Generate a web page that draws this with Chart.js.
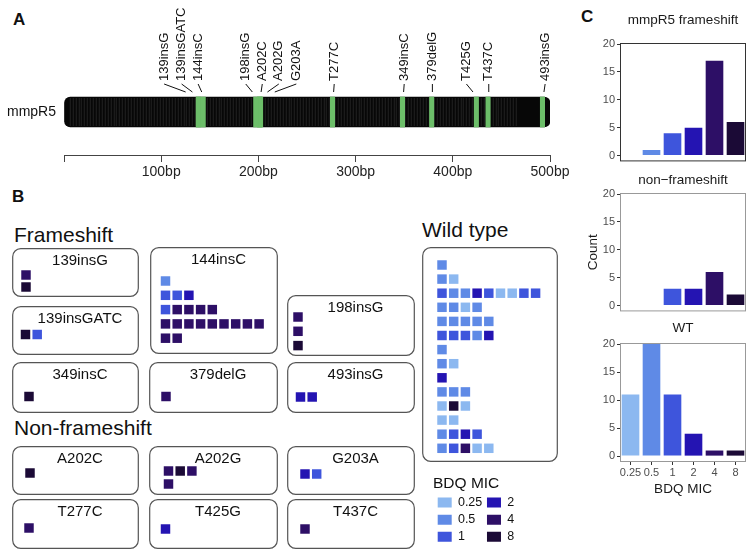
<!DOCTYPE html>
<html>
<head>
<meta charset="utf-8">
<script src="https://cdn.jsdelivr.net/npm/chart.js@4.4.1/dist/chart.umd.min.js"></script>
<style>
  body { margin: 0; background: #fff; }
  #fig { position: relative; width: 750px; height: 553px; overflow: hidden; font-family: "Liberation Sans", Arial, Helvetica, sans-serif; color: #111; }
  #fig canvas { position: absolute; }
  .lbl { position: absolute; line-height: 1; white-space: nowrap; }
  .panel { font-weight: bold; font-size: 17px; }
  .group { font-size: 21px; }
</style>
</head>
<body>
<div id="fig">
  <div class="lbl panel" style="left:13px;top:11px">A</div>
  <div class="lbl panel" style="left:12px;top:188px">B</div>
  <div class="lbl panel" style="left:581px;top:8px">C</div>
  <div class="lbl group" style="left:14px;top:224px">Frameshift</div>
  <div class="lbl group" style="left:14px;top:417px">Non-frameshift</div>
  <div class="lbl group" style="left:422px;top:219px">Wild type</div>
</div>
<script>
// gene and mutations
const geneLength = 500;
const mutationNames = ['139insG', '139insGATC', '144insC', '198insG', 'A202C', 'A202G', 'G203A', 'T277C', '349insC', '379delG', 'T425G', 'T437C', '493insG'];
const mutationPos = [139, 139, 144, 198, 202, 202, 203, 277, 349, 379, 425, 437, 493];
// where the repelled labels ended up along the gene (bp)
const labelPos = [103, 121, 138, 187, 204, 221, 239, 278, 350, 379, 414, 437, 495];

// MIC levels
const micLevels = [0.25, 0.5, 1, 2, 4, 8];
const micLabels = ['0.25', '0.5', '1', '2', '4', '8'];
const micColors = ['#8cb8f0', '#5f8ae6', '#3e55dc', '#2414b2', '#2d0f66', '#1b0a36'];

// one square per isolate, rows as in the picture
const frameshiftNames = ['139insG', '139insGATC', '144insC', '198insG', '349insC', '379delG', '493insG'];
const frameshiftMic = [
    [[4], [8]],
    [[8, 1]],
    [[0.5], [1, 1, 2], [1, 4, 4, 4, 4], [4, 4, 4, 4, 4, 4, 4, 4, 4], [4, 4]],
    [[4], [4], [8]],
    [[8]],
    [[4]],
    [[2, 2]]
];
const nonFrameshiftNames = ['A202C', 'A202G', 'G203A', 'T277C', 'T425G', 'T437C'];
const nonFrameshiftMic = [
    [[8]],
    [[4, 8, 4], [4]],
    [[2, 1]],
    [[4]],
    [[2]],
    [[4]]
];
const wildTypeMic = [
    [0.5],
    [0.5, 0.25],
    [1, 0.5, 0.5, 2, 1, 0.25, 0.25, 1, 1],
    [0.5, 0.5, 0.25, 0.5],
    [0.5, 0.5, 0.5, 0.5, 0.5],
    [1, 1, 1, 0.5, 2],
    [0.5],
    [0.5, 0.25],
    [2],
    [0.5, 0.5, 0.5],
    [0.25, 8, 0.25],
    [0.25, 0.25],
    [0.5, 1, 2, 1],
    [0.5, 1, 4, 0.25, 0.25]
];

// histogram counts per MIC level
const frameshiftCounts = [0, 1, 4, 5, 17, 6];
const nonFrameshiftCounts = [0, 0, 3, 3, 6, 2];
const wildTypeCounts = [11, 20, 11, 4, 1, 1];

// facet boxes: x, y, w, h, first square centre dx/dy, row pitch
const frameshiftBoxes = [
    [12, 248, 127, 49, 14, 27, 12],
    [12, 306, 127, 49, 13.5, 28.5, 12],
    [150, 247, 128, 107, 15.5, 34, 14.3],
    [287, 295, 128, 61, 11, 22, 14.3],
    [12, 362, 127, 51, 17, 34.5, 12],
    [149, 362, 129, 51, 17, 34.5, 12],
    [287, 362, 128, 51, 13.5, 35, 12]
];
const nonFrameshiftBoxes = [
    [12, 446, 127, 49, 18, 27, 13],
    [149, 446, 129, 49, 19.5, 25, 13],
    [287, 446, 128, 49, 18, 28, 13],
    [12, 499, 127, 50, 17, 29, 13],
    [149, 499, 129, 50, 16.5, 30, 13],
    [287, 499, 128, 50, 18, 30, 13]
];
const wildTypeBox = [422, 247, 136, 215, 20, 18, 14.1];
const PITCH_X = 11.7;

const FONT = '"Liberation Sans", Arial, Helvetica, sans-serif';
Chart.defaults.font.family = FONT;
Chart.defaults.color = '#1a1a1a';
Chart.defaults.animation = false;
Chart.defaults.responsive = false;
Chart.defaults.events = [];
Chart.defaults.plugins.legend.display = false;
Chart.defaults.plugins.tooltip.enabled = false;

const fig = document.getElementById('fig');
function addCanvas(x, y, w, h) {
    const c = document.createElement('canvas');
    c.width = w;
    c.height = h;
    c.style.left = x + 'px';
    c.style.top = y + 'px';
    fig.appendChild(c);
    return c.getContext('2d');
}

function micColor(mic) {
    return micColors[micLevels.indexOf(mic)];
}

// ---------- A: gene bar ----------
const geneStripes = {
    id: 'geneStripes',
    afterDatasetDraw(chart, args) {
        if (args.index !== chart.data.datasets.length - 1) return;
        const bar = args.meta.data[0];
        const xs = chart.scales.x;
        const top = bar.y - bar.height / 2 + 1, bottom = bar.y + bar.height / 2 - 1;
        const ctx = chart.ctx;
        ctx.save();
        ctx.strokeStyle = 'rgba(110,110,110,0.55)';
        ctx.lineWidth = 0.5;
        for (let bp = 6; bp < 466; bp += 3) {
            const px = Math.round(xs.getPixelForValue(bp)) + 0.25;
            ctx.beginPath();
            ctx.moveTo(px, top);
            ctx.lineTo(px, bottom);
            ctx.stroke();
        }
        ctx.restore();
    }
};

const mutationLabels = {
    id: 'mutationLabels',
    afterDraw(chart) {
        const ctx = chart.ctx, xs = chart.scales.x;
        const bar = chart.getDatasetMeta(chart.data.datasets.length - 1).data[0];
        const barTop = bar.y - bar.height / 2;
        ctx.save();
        ctx.font = '13px ' + FONT;
        ctx.fillStyle = '#111';
        ctx.strokeStyle = '#111';
        ctx.lineWidth = 1;
        mutationNames.forEach((name, i) => {
            const lx = xs.getPixelForValue(labelPos[i]);
            const px = xs.getPixelForValue(mutationPos[i]);
            const y0 = barTop - 13, yEnd = barTop - 5;
            const t = (yEnd - y0) / (barTop - y0);
            ctx.beginPath();
            ctx.moveTo(lx, y0);
            ctx.lineTo(lx + (px - lx) * t, yEnd);
            ctx.stroke();
            ctx.save();
            ctx.translate(lx, barTop - 16);
            ctx.rotate(-Math.PI / 2);
            ctx.textAlign = 'left';
            ctx.textBaseline = 'middle';
            ctx.fillText(name, 0, 0);
            ctx.restore();
        });
        ctx.restore();
    }
};

const bands = mutationPos.map(p => ({
    data: [[p - 3, p + 1.5]],
    backgroundColor: '#6cbe69',
    barThickness: 30,
    grouped: false
}));
bands.push({
    data: [[0, geneLength]],
    backgroundColor: '#070707',
    borderRadius: 6,
    borderSkipped: false,
    barThickness: 30,
    grouped: false
});

new Chart(addCanvas(0, 0, 580, 185), {
    type: 'bar',
    data: { labels: ['mmpR5'], datasets: bands },
    options: {
        indexAxis: 'y',
        layout: { padding: { top: 69, right: 30 } },
        scales: {
            x: {
                type: 'linear', min: 0, max: geneLength,
                ticks: { stepSize: 100, callback: v => v === 0 ? '' : v + 'bp', font: { size: 14 }, color: '#222', padding: 2 },
                grid: { drawOnChartArea: false, tickLength: 7, color: '#444' },
                border: { color: '#444' },
                afterFit: s => { s.height = 30; }
            },
            y: {
                ticks: { font: { size: 14 }, color: '#111', padding: 8 },
                grid: { display: false, drawTicks: false },
                border: { display: false },
                afterFit: s => { s.width = 64; }
            }
        }
    },
    plugins: [geneStripes, mutationLabels]
});

// ---------- B: waffle facets ----------
const roundBox = {
    id: 'roundBox',
    beforeDraw(chart) {
        const ctx = chart.ctx;
        ctx.save();
        ctx.strokeStyle = '#555';
        ctx.lineWidth = 1.2;
        ctx.beginPath();
        ctx.roundRect(0.7, 0.7, chart.width - 1.4, chart.height - 1.4, 8);
        ctx.stroke();
        ctx.restore();
    }
};

function waffle(name, rows, box) {
    const [x, y, w, h, dx, dy, py] = box;
    const left = 9, top = name ? 22 : 0;
    const points = [];
    rows.forEach((row, r) => row.forEach((mic, c) => points.push({ x: c, y: r, mic: mic })));
    const xMin = -(dx - left) / PITCH_X;
    const yMin = -(dy - top) / py;
    new Chart(addCanvas(x, y, w, h), {
        type: 'scatter',
        data: {
            datasets: [{
                data: points,
                pointStyle: 'rect',
                pointRadius: 6.7,
                pointBorderWidth: 0,
                pointBackgroundColor: c => c.raw ? micColor(c.raw.mic) : '#000',
                clip: false
            }]
        },
        options: {
            layout: { autoPadding: false, padding: { left: left } },
            plugins: {
                title: { display: !!name, text: name, font: { size: 15, weight: 'normal' }, color: '#111', padding: { top: 4, bottom: 0 } }
            },
            scales: {
                x: { type: 'linear', display: false, min: xMin, max: xMin + (w - left) / PITCH_X },
                y: { type: 'linear', display: false, reverse: true, min: yMin, max: yMin + (h - top) / py }
            }
        },
        plugins: [roundBox]
    });
}

frameshiftNames.forEach((n, i) => waffle(n, frameshiftMic[i], frameshiftBoxes[i]));
nonFrameshiftNames.forEach((n, i) => waffle(n, nonFrameshiftMic[i], nonFrameshiftBoxes[i]));
waffle('', wildTypeMic, wildTypeBox);

// legend
new Chart(addCanvas(433, 476, 130, 77), {
    type: 'bar',
    data: { labels: [], datasets: [] },
    options: {
        scales: { x: { display: false }, y: { display: false } },
        plugins: {
            legend: {
                display: true, position: 'left', align: 'start', maxWidth: 130,
                title: { display: true, text: 'BDQ MIC', position: 'start', color: '#111', font: { size: 15.5, lineHeight: 1 }, padding: 0 },
                labels: {
                    boxWidth: 14, boxHeight: 10, padding: 4.7, color: '#1a1a1a', font: { size: 12.5 },
                    generateLabels: () => micLabels.map((t, i) => ({
                        text: t, fillStyle: micColors[i], strokeStyle: micColors[i], lineWidth: 0, hidden: false, datasetIndex: i
                    }))
                }
            }
        }
    }
});

// ---------- C: histograms ----------
const panelBorder = {
    id: 'panelBorder',
    afterDatasetsDraw(chart, args, opts) {
        const { left, top, right, bottom } = chart.chartArea;
        const ctx = chart.ctx;
        ctx.save();
        ctx.strokeStyle = opts.color || '#999';
        ctx.lineWidth = 1;
        ctx.strokeRect(left + 0.5, top + 0.5, right - left - 1, bottom - top - 1);
        ctx.restore();
    }
};

function histogram(title, counts, y, h, opt) {
    const xAxis = opt.showX ? {
        ticks: { font: { size: 11 }, color: '#4d4d4d', padding: 1, autoSkip: false, maxRotation: 0, minRotation: 0 },
        grid: { drawOnChartArea: false, tickLength: 3, color: '#333', offset: false },
        border: { display: false },
        title: { display: true, text: 'BDQ MIC', font: { size: 13.5 }, color: '#1a1a1a', padding: { top: 0, bottom: 3 } },
        afterFit: s => { s.height = opt.xHeight; }
    } : { display: false };
    new Chart(addCanvas(560, y, 190, h), {
        type: 'bar',
        data: {
            labels: micLabels,
            datasets: [{ data: counts, backgroundColor: micColors, barPercentage: 0.84, categoryPercentage: 1, borderWidth: 0 }]
        },
        options: {
            layout: { padding: { right: 4, bottom: opt.padBottom } },
            plugins: {
                title: { display: true, fullSize: false, text: title, font: { size: 13.5, weight: 'normal' }, color: '#1a1a1a', padding: opt.titlePad },
                panelBorder: { color: opt.frame }
            },
            scales: {
                x: xAxis,
                y: {
                    min: -1.05, max: 20.2,
                    ticks: { stepSize: 5, includeBounds: false, font: { size: 11 }, color: '#4d4d4d', padding: 2 },
                    grid: { drawOnChartArea: false, tickLength: 3, color: '#333' },
                    border: { display: false },
                    title: opt.yTitle ? { display: true, text: 'Count', font: { size: 13.5 }, color: '#1a1a1a', padding: { top: 25, bottom: 0 } } : { display: false },
                    afterFit: s => { s.width = 60; }
                }
            }
        },
        plugins: [panelBorder]
    });
}

histogram('mmpR5 frameshift', frameshiftCounts, 0, 170, { titlePad: { top: 12, bottom: 14.8 }, padBottom: 7, frame: '#333' });
histogram('non\u2212frameshift', nonFrameshiftCounts, 170, 150, { titlePad: { top: 1.9, bottom: 4.9 }, padBottom: 8, frame: '#999', yTitle: true });
histogram('WT', wildTypeCounts, 320, 180, { titlePad: { top: 0, bottom: 6.8 }, padBottom: 0, frame: '#999', showX: true, xHeight: 38 });
</script>
</body>
</html>
